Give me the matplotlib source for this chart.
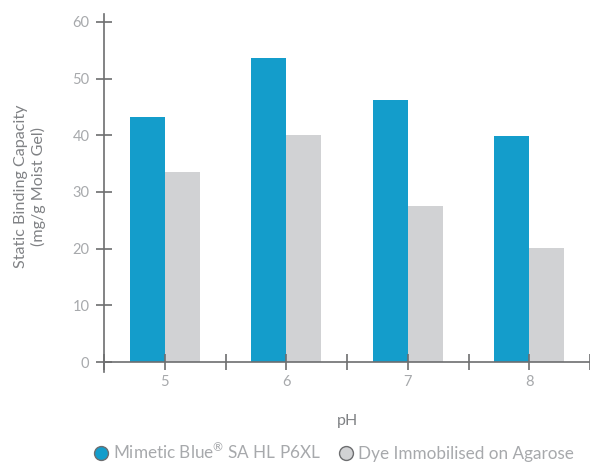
import matplotlib
matplotlib.use("Agg")
import matplotlib.pyplot as plt
from matplotlib.lines import Line2D
import numpy as np

categories = ["5", "6", "7", "8"]
mimetic_blue = [43.2, 53.6, 46.2, 39.9]
dye_agarose = [33.5, 40.0, 27.5, 20.1]
series_names = ["Mimetic Blue$^{\u00ae}$ SA HL P6XL", "Dye Immobilised on Agarose"]
yticks = [0, 10, 20, 30, 40, 50, 60]

blue = "#149dcb"
grey = "#d1d2d4"
axis_col = "#6d6e70"
tick_col = "#a7a9ac"
label_col = "#808285"

plt.rcParams['font.family'] = ['Lato', 'DejaVu Sans']
plt.rcParams['mathtext.fontset'] = 'custom'
plt.rcParams['mathtext.rm'] = 'Lato'
plt.rcParams['mathtext.it'] = 'Lato'

fig = plt.figure(figsize=(5.9, 4.62), dpi=100)
ax = fig.add_axes([104/590, 90/462, 486/590, 358/462])

x = np.arange(len(categories)) + 5
w = 0.29
ax.bar(x - w/2, mimetic_blue, width=w, color=blue, linewidth=0)
ax.bar(x + w/2, dye_agarose, width=w, color=grey, linewidth=0)

ax.set_xlim(4.5, 8.5)
ax.set_ylim(-1.76, 61.4)
for s in ["top", "right"]:
    ax.spines[s].set_visible(False)
ax.spines["bottom"].set_position(("data", 0))
for s in ["left", "bottom"]:
    ax.spines[s].set_color(axis_col)
    ax.spines[s].set_linewidth(1.2)

ax.set_yticks(yticks)
ax.set_yticklabels([str(v) for v in yticks])
ax.set_xticks(x)
ax.set_xticklabels(categories)
ax.set_xticks(np.arange(4.5, 8.6, 1.0), minor=True)
ax.tick_params(axis="y", direction="inout", length=11, width=1.2, color=axis_col,
               labelcolor=tick_col, labelsize=10.5, pad=5)
ax.tick_params(axis="x", which="both", direction="inout", length=11, width=1.2,
               color=axis_col, labelcolor=tick_col, labelsize=10.5, pad=4)

ax.set_xlabel("pH", color=label_col, fontsize=11.5, labelpad=18)
fig.text(30/590, 1 - 186/462, "Static Binding Capacity\n(mg/g Moist Gel)", rotation=90,
         ha="center", va="center", color=label_col, fontsize=11.6, linespacing=1.3)

handles = [Line2D([], [], marker="o", linestyle="none", markersize=10,
                  markerfacecolor=blue, markeredgecolor=axis_col, markeredgewidth=1.0),
           Line2D([], [], marker="o", linestyle="none", markersize=10,
                  markerfacecolor=grey, markeredgecolor=axis_col, markeredgewidth=1.0)]
leg = fig.legend(handles, series_names, loc="center", bbox_to_anchor=(333/590, 1 - 452/462),
                 ncol=2, frameon=False, fontsize=12.3, handletextpad=0.2, columnspacing=1.0,
                 handlelength=1.0, borderaxespad=0)
for t in leg.get_texts():
    t.set_color(tick_col)

fig.savefig("out.png", dpi=100)
